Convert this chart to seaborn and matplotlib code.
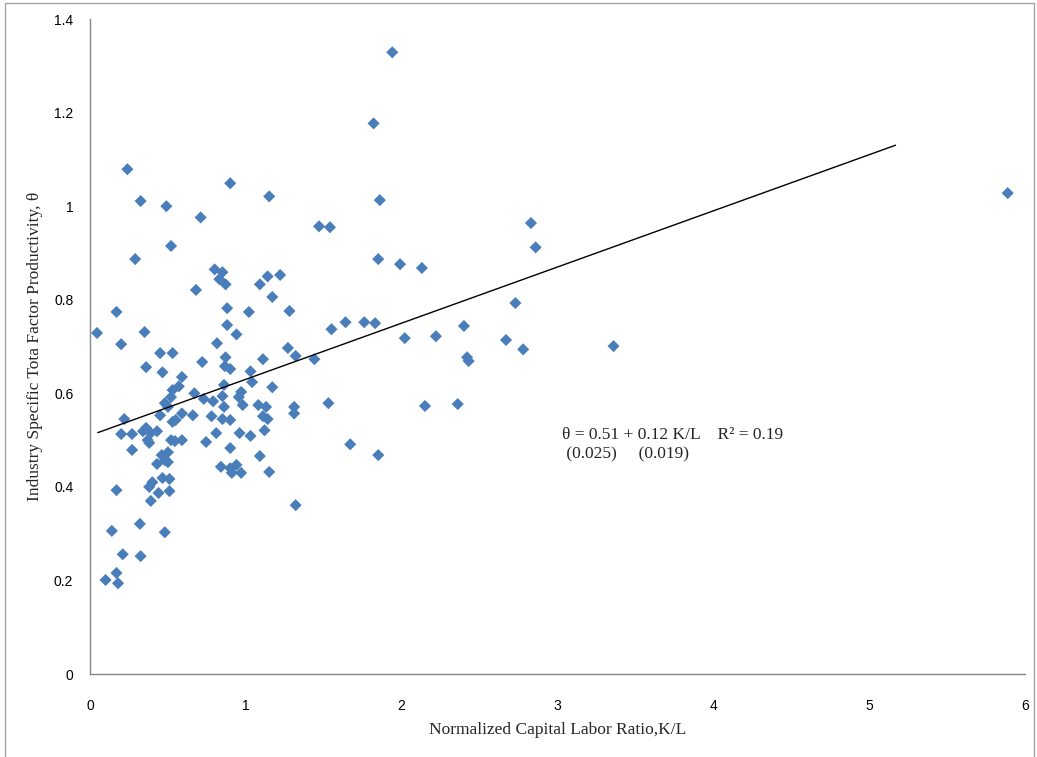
import matplotlib
matplotlib.use("Agg")
import matplotlib.pyplot as plt
import seaborn as sns
import pandas as pd
import numpy as np
from matplotlib.patches import Rectangle

# Normalized capital-labor ratio (K/L) for each industry
kl = [
    0.045, 0.10, 0.14, 0.17, 0.17, 0.17, 0.18, 0.20, 0.21, 0.32,
    0.325, 0.48, 0.45, 0.53, 0.36, 0.465, 0.72, 0.815, 0.87, 0.866,
    0.90, 0.59, 0.57, 0.53, 0.52, 0.67, 0.73, 0.79, 0.86, 0.85,
    0.86, 1.03, 1.04, 1.11, 1.17, 0.97, 0.955, 0.98, 1.08, 1.13,
    1.11, 1.14, 1.12, 1.03, 0.96, 0.90, 1.09, 1.15, 0.84, 0.90,
    0.94, 0.91, 0.97, 0.78, 0.85, 0.90, 0.81, 0.745, 0.66, 0.59,
    0.55, 0.53, 0.59, 0.52, 0.545, 0.48, 0.50, 0.45, 0.43, 0.39,
    0.37, 0.38, 0.36, 0.34, 0.22, 0.20, 0.27, 0.27, 0.46, 0.50,
    0.48, 0.50, 0.43, 0.465, 0.51, 0.40, 0.38, 0.44, 0.51, 0.39,
    0.80, 0.85, 0.83, 0.87, 0.68, 1.09, 1.14, 1.22, 1.17, 0.88,
    1.02, 1.28, 0.88, 0.94, 1.55, 1.27, 1.32, 1.44, 1.31, 1.31,
    1.53, 2.02, 1.67, 1.85, 1.32, 1.15, 1.86, 1.47, 1.54, 1.85,
    1.99, 2.13, 1.64, 1.76, 1.83, 2.83, 2.86, 2.73, 2.40, 2.22,
    2.67, 2.78, 2.43, 2.42, 3.36, 2.15, 2.36, 5.89, 1.94, 1.82,
    0.24, 0.90, 0.325, 0.49, 0.71, 0.52, 0.29, 0.35,
]

# Industry specific total factor productivity (theta)
tfp = [
    0.729, 0.201, 0.306, 0.393, 0.774, 0.216, 0.194, 0.705, 0.256, 0.321,
    0.252, 0.303, 0.686, 0.686, 0.656, 0.645, 0.667, 0.707, 0.677, 0.658,
    0.652, 0.635, 0.615, 0.607, 0.592, 0.600, 0.588, 0.583, 0.618, 0.594,
    0.571, 0.647, 0.624, 0.673, 0.613, 0.603, 0.592, 0.575, 0.575, 0.571,
    0.551, 0.545, 0.521, 0.509, 0.515, 0.483, 0.466, 0.432, 0.443, 0.440,
    0.447, 0.430, 0.430, 0.551, 0.545, 0.543, 0.515, 0.496, 0.553, 0.557,
    0.543, 0.539, 0.500, 0.500, 0.498, 0.579, 0.571, 0.553, 0.519, 0.515,
    0.500, 0.494, 0.526, 0.519, 0.545, 0.513, 0.513, 0.479, 0.468, 0.474,
    0.457, 0.453, 0.449, 0.419, 0.417, 0.410, 0.400, 0.387, 0.391, 0.370,
    0.865, 0.859, 0.844, 0.833, 0.821, 0.833, 0.850, 0.853, 0.806, 0.782,
    0.774, 0.776, 0.746, 0.726, 0.737, 0.697, 0.680, 0.673, 0.571, 0.557,
    0.579, 0.718, 0.491, 0.468, 0.361, 1.021, 1.013, 0.957, 0.955, 0.887,
    0.876, 0.868, 0.752, 0.752, 0.750, 0.964, 0.912, 0.793, 0.744, 0.722,
    0.714, 0.694, 0.669, 0.677, 0.701, 0.573, 0.577, 1.028, 1.329, 1.177,
    1.079, 1.049, 1.011, 1.000, 0.976, 0.915, 0.887, 0.731,
]

# Fitted regression: theta = a + b * K/L
intercept = 0.51
slope = 0.12
fit_range = [0.05, 5.17]

x_ticks = [0, 1, 2, 3, 4, 5, 6]
y_ticks = [0, 0.2, 0.4, 0.6, 0.8, 1.0, 1.2, 1.4]
y_tick_labels = ["0", "0.2", "0.4", "0.6", "0.8", "1", "1.2", "1.4"]

sns.set_theme(style="white")
plt.rcParams["font.family"] = ["Liberation Sans", "DejaVu Sans"]

df = pd.DataFrame({"kl": kl, "tfp": tfp})
fit = pd.DataFrame({"kl": fit_range})
fit["tfp"] = intercept + slope * fit["kl"]

fig = plt.figure(figsize=(10.37, 7.57), dpi=100)
ax = fig.add_axes([0.0868, 0.1096, 0.9015, 0.8652])

sns.scatterplot(data=df, x="kl", y="tfp", marker="D", s=38, color="#4a7ebb",
                edgecolor="none", linewidth=0, ax=ax, zorder=3)
sns.lineplot(data=fit, x="kl", y="tfp", color="black", linewidth=1.0, ax=ax,
             zorder=4)

ax.set_xlim(0, 6)
ax.set_ylim(0, 1.4)
ax.set_xticks(x_ticks)
ax.set_xticklabels([str(t) for t in x_ticks])
ax.set_yticks(y_ticks)
ax.set_yticklabels(y_tick_labels)

for side in ("top", "right"):
    ax.spines[side].set_visible(False)
for side in ("left", "bottom"):
    ax.spines[side].set_color("#868686")
    ax.spines[side].set_linewidth(1.0)

ax.tick_params(axis="both", which="major", direction="out", length=4,
               width=1.0, color="#868686", labelsize=10, labelcolor="black")
ax.tick_params(axis="x", pad=14)
ax.tick_params(axis="y", pad=8)

ax.set_xlabel("Normalized Capital Labor Ratio,K/L", family="Liberation Serif",
              fontsize=12.5, va="center")
ax.set_ylabel("Industry Specific Tota Factor Productivity, θ",
              family="Liberation Serif", fontsize=12.5, va="center")
ax.xaxis.set_label_coords(0.5, -0.086)
ax.yaxis.set_label_coords(-0.059, 0.50)

ax.text(3.03, 0.512, "θ = 0.51 + 0.12 K/L    R² = 0.19",
        family="Liberation Serif", fontsize=12.5, ha="left", va="center")
ax.text(3.03, 0.47, " (0.025)     (0.019)",
        family="Liberation Serif", fontsize=12.5, ha="left", va="center")

# Chart frame around the whole figure
fig.patches.append(Rectangle((5 / 1037, -0.01), 1029 / 1037, 1.0 - 3 / 757 + 0.01,
                             transform=fig.transFigure, fill=False,
                             edgecolor="#a6a6a6", linewidth=1.0))

fig.savefig("out.png", dpi=100)
